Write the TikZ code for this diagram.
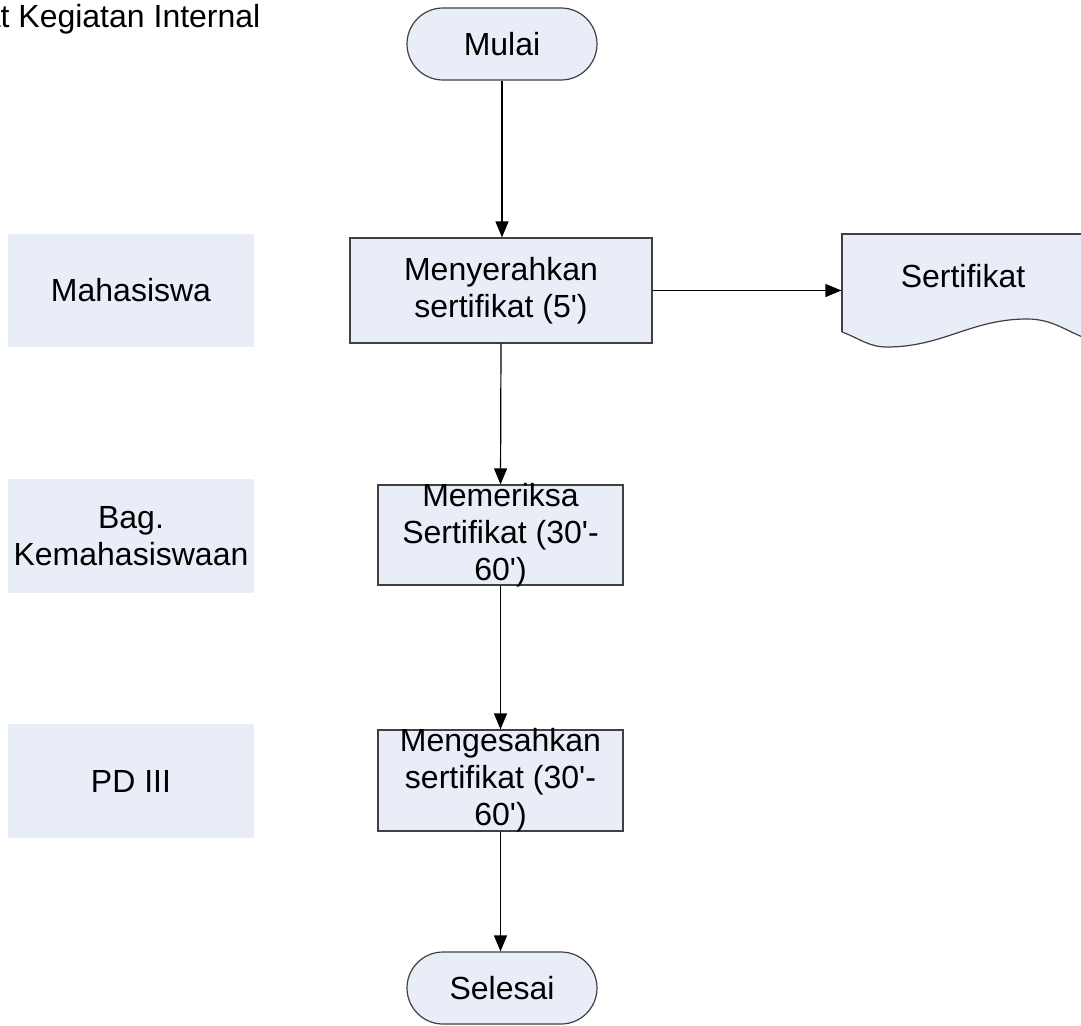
\documentclass[tikz,border=0pt]{standalone}
\usepackage{fontspec}
\setmainfont{Liberation Sans}[Ligatures=TeXOff]
\usepackage{xcolor}
\usetikzlibrary{positioning, arrows.meta, calc}

\definecolor{boxfill}{RGB}{232,237,247}
\definecolor{boxline}{RGB}{64,64,64}

\begin{document}
\begin{tikzpicture}[
  x=1pt, y=-1pt,
  font=\fontsize{32}{37}\selectfont,
  >={Triangle[length=16pt,width=13pt]},
  line width=1.2pt,
  proc/.style={draw=boxline, fill=boxfill, inner sep=0pt, align=center},
  term/.style={draw=boxline, fill=boxfill, rounded corners=36pt, minimum width=190pt, minimum height=72pt, inner sep=0pt},
  lane/.style={fill=boxfill, minimum width=246pt, inner sep=0pt, align=center},
  lbl/.style={align=center, inner sep=0pt}
]
  \useasboundingbox (0,0) rectangle (1081,1025);

  \node[lbl, anchor=base east] (judul) at (261,28) {at Kegiatan Internal};

  % lanes
  \node[lane, minimum height=113pt] (mhs) at (131,290.5) {Mahasiswa};
  \node[lane, minimum height=114pt] (kemhs) at (131,536) {Bag.\\Kemahasiswaan};
  \node[lane, minimum height=114pt] (pd) at (131,781) {PD III};

  % flow
  \node[term] (mulai) at (502,44) {Mulai};
  \node[proc, minimum width=302pt, minimum height=105pt] (serah) at (501,290.5) {Menyerahkan\\sertifikat (5')};
  \node[proc, minimum width=245pt, minimum height=100pt] (periksa) at (500.5,535) {};
  \node[lbl] (periksatxt) at (periksa.center) {Memeriksa\\Sertifikat (30'-\\60')};
  \node[proc, minimum width=245pt, minimum height=101pt] (sah) at (500.5,780.5) {};
  \node[lbl] (sahtxt) at (sah.center) {Mengesahkan\\sertifikat (30'-\\60')};
  \node[term] (selesai) at (502,988) {Selesai};

  % document
  \fill[boxfill] (842,332) -- (842,234) -- (1090,234) -- (1090,340)
    to[out=160,in=0] (1027,319) to[out=180,in=0] (887,347) to[out=180,in=-20] (842,332) -- cycle;
  \draw[boxline] (842,332) -- (842,234) -- (1090,234);
  \draw[boxline] (842,332) to[out=-20,in=180] (887,347) to[out=0,in=180] (1027,319) to[out=0,in=160] (1090,340);
  \node[lbl, minimum width=242pt] (sertif) at (963,276) {Sertifikat};

  % connectors
  \draw[->] (mulai.south) -- (mulai.south |- serah.north);
  \draw[->] (serah.east) -- (serah.east -| sertif.west);
  \draw[->] (serah.south) -- (periksa.north);
  \draw[->] (periksa.south) -- (sah.north);
  \draw[->] (sah.south) -- (sah.south |- selesai.north);
\end{tikzpicture}
\end{document}
